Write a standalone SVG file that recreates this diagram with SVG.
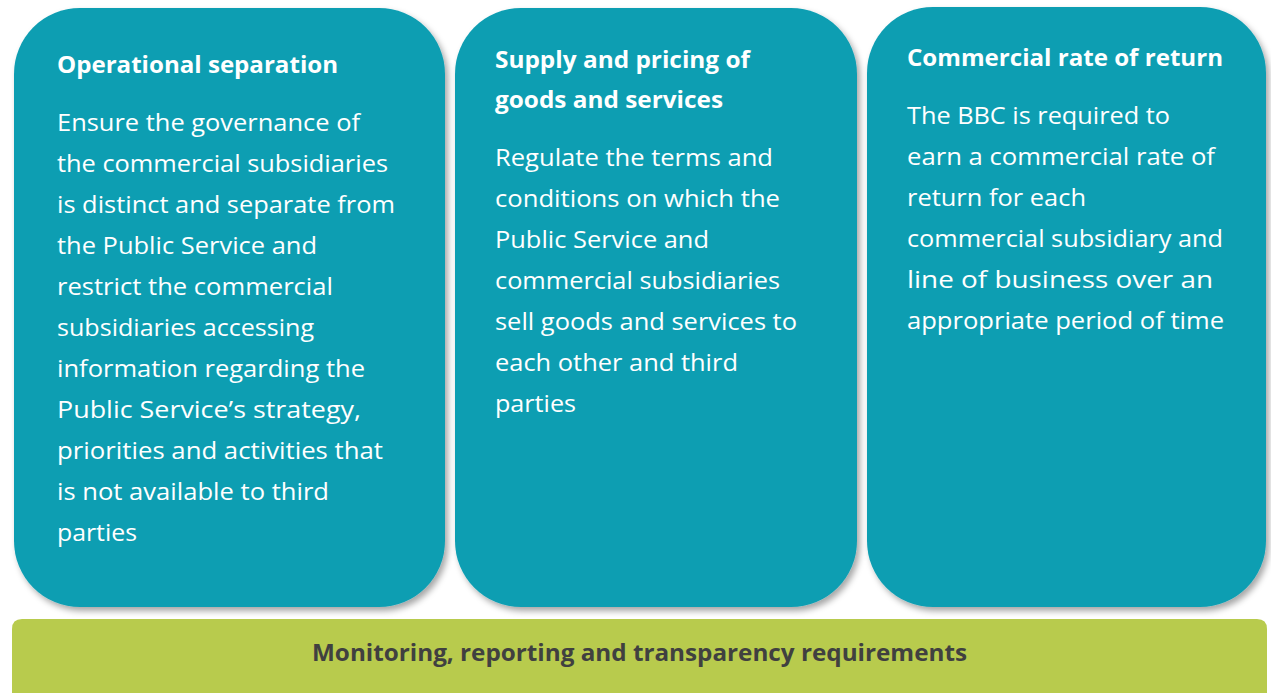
<svg xmlns="http://www.w3.org/2000/svg" width="1271" height="693" viewBox="0 0 1271 693">
  <defs>
    <filter id="shadow" x="-5%" y="-5%" width="115%" height="115%">
      <feDropShadow dx="3" dy="4" stdDeviation="3" flood-color="#000" flood-opacity="0.35"/>
    </filter>
    <style>
      .card { fill: #119eb2; filter: url(#shadow); }
      .bar { fill: #b8cb4d; }
      .title { font-family: "Open Sans", "Liberation Sans", sans-serif; font-weight: bold; font-size: 22.5px; fill: #ffffff; }
      .body { font-family: "Open Sans", "Liberation Sans", sans-serif; font-size: 23px; fill: #ffffff; }
      .bartext { font-family: "Open Sans", "Liberation Sans", sans-serif; font-weight: bold; font-size: 22.5px; fill: #404040; }
    </style>
  </defs>

  <g id="operational-separation">
    <rect class="card" x="14" y="8" width="431" height="599" rx="66" ry="66"/>
    <text class="title" x="57" y="73" textLength="281" lengthAdjust="spacingAndGlyphs">Operational separation</text>
    <g class="body">
      <text x="57" y="131" textLength="303" lengthAdjust="spacingAndGlyphs">Ensure the governance of</text>
      <text x="57" y="172" textLength="331" lengthAdjust="spacingAndGlyphs">the commercial subsidiaries</text>
      <text x="57" y="213" textLength="338" lengthAdjust="spacingAndGlyphs">is distinct and separate from</text>
      <text x="57" y="254" textLength="260" lengthAdjust="spacingAndGlyphs">the Public Service and</text>
      <text x="57" y="295" textLength="276" lengthAdjust="spacingAndGlyphs">restrict the commercial</text>
      <text x="57" y="336" textLength="257" lengthAdjust="spacingAndGlyphs">subsidiaries accessing</text>
      <text x="57" y="377" textLength="308" lengthAdjust="spacingAndGlyphs">information regarding the</text>
      <text x="57" y="418" textLength="304" lengthAdjust="spacingAndGlyphs">Public Service’s strategy,</text>
      <text x="57" y="459" textLength="326" lengthAdjust="spacingAndGlyphs">priorities and activities that</text>
      <text x="57" y="500" textLength="272" lengthAdjust="spacingAndGlyphs">is not available to third</text>
      <text x="57" y="541" textLength="80" lengthAdjust="spacingAndGlyphs">parties</text>
    </g>
  </g>

  <g id="supply-and-pricing">
    <rect class="card" x="455" y="8" width="402" height="599" rx="66" ry="66"/>
    <text class="title" x="495" y="68" textLength="255" lengthAdjust="spacingAndGlyphs">Supply and pricing of</text>
    <text class="title" x="495" y="108" textLength="228" lengthAdjust="spacingAndGlyphs">goods and services</text>
    <g class="body">
      <text x="495" y="166" textLength="278" lengthAdjust="spacingAndGlyphs">Regulate the terms and</text>
      <text x="495" y="207" textLength="285" lengthAdjust="spacingAndGlyphs">conditions on which the</text>
      <text x="495" y="248" textLength="214" lengthAdjust="spacingAndGlyphs">Public Service and</text>
      <text x="495" y="289" textLength="285" lengthAdjust="spacingAndGlyphs">commercial subsidiaries</text>
      <text x="495" y="330" textLength="302" lengthAdjust="spacingAndGlyphs">sell goods and services to</text>
      <text x="495" y="371" textLength="243" lengthAdjust="spacingAndGlyphs">each other and third</text>
      <text x="495" y="412" textLength="81" lengthAdjust="spacingAndGlyphs">parties</text>
    </g>
  </g>

  <g id="commercial-rate-of-return">
    <rect class="card" x="867" y="7" width="399" height="600" rx="66" ry="66"/>
    <text class="title" x="907" y="66" textLength="316" lengthAdjust="spacingAndGlyphs">Commercial rate of return</text>
    <g class="body">
      <text x="907" y="124" textLength="263" lengthAdjust="spacingAndGlyphs">The BBC is required to</text>
      <text x="907" y="165" textLength="308" lengthAdjust="spacingAndGlyphs">earn a commercial rate of</text>
      <text x="907" y="206" textLength="179" lengthAdjust="spacingAndGlyphs">return for each</text>
      <text x="907" y="247" textLength="316" lengthAdjust="spacingAndGlyphs">commercial subsidiary and</text>
      <text x="907" y="288" textLength="306" lengthAdjust="spacingAndGlyphs">line of business over an</text>
      <text x="907" y="329" textLength="317" lengthAdjust="spacingAndGlyphs">appropriate period of time</text>
    </g>
  </g>

  <g id="monitoring-bar">
    <path class="bar" d="M12 629 Q12 619 22 619 L1257 619 Q1267 619 1267 629 L1267 693 L12 693 Z"/>
    <text class="bartext" x="312" y="661" textLength="655" lengthAdjust="spacingAndGlyphs">Monitoring, reporting and transparency requirements</text>
  </g>

  <g id="connectors"/>
</svg>
